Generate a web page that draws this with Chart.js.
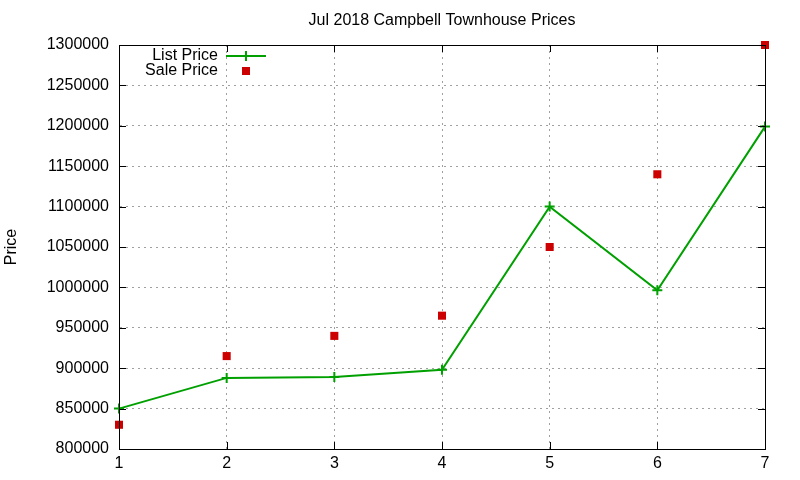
<!DOCTYPE html>
<html><head><meta charset="utf-8">
<script src="https://cdn.jsdelivr.net/npm/chart.js@4/dist/chart.umd.min.js"></script>
<style>html,body{margin:0;padding:0;background:#fff}#wrap{width:800px;height:480px}</style>
</head><body><div id="wrap"><canvas id="c" width="800" height="480"></canvas></div>
<script>
const chartTitle = "Jul 2018 Campbell Townhouse Prices";
const yAxisLabel = "Price";
const categories = [1, 2, 3, 4, 5, 6, 7];
const listPrices = [850000, 888000, 889000, 898000, 1100000, 996500, 1199000];
const salePrices = [830000, 915000, 940000, 965000, 1050000, 1140000, 1300000];
const seriesNames = ["List Price", "Sale Price"];
const yMin = 800000, yMax = 1300000, yStep = 50000;

const FONT = "'Liberation Sans', Arial, sans-serif";
const GREEN = "#00a000", RED = "#cc0000";

const gnuplotDecor = {
  id: "gnuplotDecor",
  afterDraw(chart) {
    const ctx = chart.ctx, a = chart.chartArea;
    const xs = chart.scales.x, ys = chart.scales.y;
    ctx.save();
    ctx.strokeStyle = "#000"; ctx.lineWidth = 1; ctx.setLineDash([]);
    ctx.strokeRect(Math.round(a.left) + 0.5, Math.round(a.top) + 0.5, Math.round(a.right - a.left), Math.round(a.bottom - a.top));
    ctx.beginPath();
    ys.ticks.forEach(t => {
      const y = Math.round(ys.getPixelForValue(t.value)) + 0.5;
      ctx.moveTo(a.left, y); ctx.lineTo(a.left + 7, y);
      ctx.moveTo(a.right, y); ctx.lineTo(a.right - 7, y);
    });
    xs.ticks.forEach(t => {
      const x = Math.round(xs.getPixelForValue(t.value)) + 0.5;
      ctx.moveTo(x, a.bottom); ctx.lineTo(x, a.bottom - 7);
      ctx.moveTo(x, a.top); ctx.lineTo(x, a.top + 7);
    });
    ctx.stroke();
    ctx.fillStyle = "#000";
    ctx.font = "16px " + FONT;
    ctx.textAlign = "center"; ctx.textBaseline = "middle";
    ctx.fillText(chartTitle, (a.left + a.right) / 2, 21);
    ctx.textAlign = "right";
    const lx = 218, sx1 = 226, sx2 = 266, sc = 246;
    const rows = [56, 71];
    ctx.fillText(seriesNames[0], lx, rows[0]);
    ctx.fillText(seriesNames[1], lx, rows[1]);
    ctx.strokeStyle = GREEN; ctx.lineWidth = 2;
    ctx.beginPath();
    ctx.moveTo(sx1, rows[0]); ctx.lineTo(sx2, rows[0]);
    ctx.moveTo(sc, rows[0] - 5); ctx.lineTo(sc, rows[0] + 5);
    ctx.stroke();
    ctx.fillStyle = RED;
    ctx.fillRect(sc - 4, rows[1] - 4, 8, 8);
    ctx.restore();
  }
};

new Chart(document.getElementById("c"), {
  type: "line",
  data: {
    datasets: [
      {
        label: seriesNames[0],
        data: categories.map((c, i) => ({x: c, y: listPrices[i]})),
        borderColor: GREEN, backgroundColor: GREEN,
        borderWidth: 2, pointStyle: "cross", pointRadius: 5,
        pointBorderWidth: 2, pointBorderColor: GREEN,
        tension: 0, fill: false, clip: false
      },
      {
        label: seriesNames[1],
        data: categories.map((c, i) => ({x: c, y: salePrices[i]})),
        showLine: false,
        borderColor: RED, backgroundColor: RED,
        pointStyle: "rect", pointRadius: 5.7, pointBorderWidth: 0, clip: false
      }
    ]
  },
  options: {
    responsive: false, animation: false,
    layout: { padding: { top: 45, right: 35, left: 0, bottom: 0 } },
    plugins: { legend: { display: false }, title: { display: false }, tooltip: { enabled: false } },
    scales: {
      x: {
        type: "linear", min: 1, max: 7,
        ticks: { stepSize: 1, padding: 5, color: "#000", font: { family: FONT, size: 16 }, callback: v => String(v) },
        grid: { color: "#a0a0a0", lineWidth: 1, drawTicks: false },
        border: { display: true, color: "#000", dash: [2, 4] },
        afterFit(s) { s.height = 31; }
      },
      y: {
        min: yMin, max: yMax,
        ticks: { stepSize: yStep, padding: 10, color: "#000", font: { family: FONT, size: 16 }, callback: v => String(v) },
        grid: { color: "#a0a0a0", lineWidth: 1, drawTicks: false },
        border: { display: true, color: "#000", dash: [2, 4] },
        title: { display: true, text: yAxisLabel, color: "#000", font: { family: FONT, size: 16 }, padding: { top: 2, bottom: 0 } },
        afterFit(s) { s.width = 119; }
      }
    }
  },
  plugins: [gnuplotDecor]
});
</script></body></html>
